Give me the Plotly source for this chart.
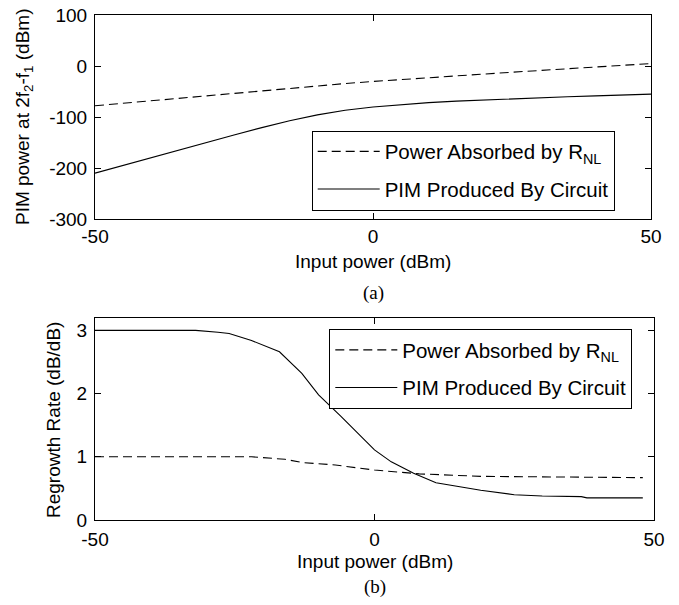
import plotly.graph_objects as go

# (a) PIM power at 2f2-f1 versus input power
pin_a = [-50, -45, -40, -35, -30, -25, -20, -15, -10, -5, 0, 5, 10, 15, 20, 25, 30, 35, 40, 45, 50]
absorbed_a = [-78, -73, -68, -63, -58, -53, -48, -43.2, -38.7, -34.4, -30.3, -26.4, -22.7,
              -19.2, -15.7, -12.2, -8.8, -5.4, -2.0, 1.4, 4.8]
pim_a = [-210, -195, -180, -165, -149, -135.2, -120.8, -107.4, -95.9, -86.9, -80.3, -75.5,
         -71.8, -68.9, -66.4, -64.2, -62.2, -60.3, -58.6, -56.9, -55.2]

# (b) regrowth rate (dB/dB) versus input power
pin_b_abs = [-50, -22, -16, -13, -7, 0, 8, 19, 48]
absorbed_b = [1.0, 1.0, 0.96, 0.91, 0.87, 0.79, 0.73, 0.69, 0.67]
pin_b_pim = [-50, -32, -28, -26, -22, -17, -13, -10, -6, -3, 0, 3, 7, 11, 15, 19, 25, 30, 37, 38, 48]
pim_b = [3.0, 3.0, 2.97, 2.95, 2.84, 2.66, 2.32, 1.98, 1.64, 1.37, 1.11, 0.92, 0.74, 0.59,
         0.53, 0.47, 0.40, 0.38, 0.37, 0.35, 0.35]

name_abs = "Power Absorbed by R<sub>NL</sub>"
name_pim = "PIM Produced By Circuit"

x_ticks = [-50, 0, 50]
x_ticktext = ["-50", "0", "50"]
y_ticks_a = [-300, -200, -100, 0, 100]
y_ticktext_a = ["-300", "-200", "-100", "0", "100"]
y_ticks_b = [0, 1, 2, 3]
y_ticktext_b = ["0", "1", "2", "3"]

W, H = 679, 605
FONT = "Arial, Liberation Sans, sans-serif"
SERIF = "Times New Roman, Liberation Serif, serif"
FS = 19
FS_LEG = 20.5


def px_x(p):
    return p / W


def px_y(p):
    return 1 - p / H


dash = "9px,5px"
line_w = 1.1

fig = go.Figure()
fig.add_trace(go.Scatter(x=pin_a, y=absorbed_a, mode="lines", name=name_abs,
                         line=dict(color="black", width=line_w, dash=dash),
                         xaxis="x", yaxis="y", legend="legend", legendgroup="a1"))
fig.add_trace(go.Scatter(x=pin_a, y=pim_a, mode="lines", name=name_pim,
                         line=dict(color="black", width=line_w),
                         xaxis="x", yaxis="y", legend="legend", legendgroup="a2"))
fig.add_trace(go.Scatter(x=pin_b_abs, y=absorbed_b, mode="lines", name=name_abs,
                         line=dict(color="black", width=line_w, dash=dash),
                         xaxis="x2", yaxis="y2", legend="legend2", legendgroup="b1"))
fig.add_trace(go.Scatter(x=pin_b_pim, y=pim_b, mode="lines", name=name_pim,
                         line=dict(color="black", width=line_w),
                         xaxis="x2", yaxis="y2", legend="legend2", legendgroup="b2"))

axis_common = dict(showline=True, linecolor="black", linewidth=1, mirror="ticks",
                   ticks="inside", ticklen=6, tickcolor="black", tickwidth=1,
                   showgrid=False, zeroline=False, automargin=False,
                   tickfont=dict(family=FONT, size=FS, color="black"))

legend_common = dict(xanchor="left", yanchor="top", bordercolor="black", borderwidth=1,
                     bgcolor="white", font=dict(family=FONT, size=FS_LEG, color="black"),
                     itemwidth=62, tracegroupgap=8, itemclick=False, itemdoubleclick=False)

fig.update_layout(
    width=W, height=H,
    margin=dict(l=0, r=0, t=0, b=0, pad=0, autoexpand=False),
    paper_bgcolor="white", plot_bgcolor="white",
    font=dict(family=FONT, size=FS, color="black"),
    xaxis=dict(domain=[px_x(95), px_x(651)], range=[-50, 50], tickvals=x_ticks,
               ticktext=x_ticktext, anchor="y", **axis_common),
    yaxis=dict(domain=[px_y(219), px_y(15)], range=[-300, 100], tickvals=y_ticks_a,
               ticktext=y_ticktext_a, anchor="x", ticklabelstandoff=3, **axis_common),
    xaxis2=dict(domain=[px_x(95), px_x(654)], range=[-50, 50], tickvals=x_ticks,
                ticktext=x_ticktext, anchor="y2", ticklabelstandoff=2, **axis_common),
    yaxis2=dict(domain=[px_y(520), px_y(317.7)], range=[0, 3.2], tickvals=y_ticks_b,
                ticktext=y_ticktext_b, anchor="x2", ticklabelstandoff=3, **axis_common),
    legend=dict(x=px_x(311.7), y=px_y(130.5), **legend_common),
    legend2=dict(x=px_x(329.3), y=px_y(329), **legend_common),
    showlegend=True,
)

annos = [
    dict(text="PIM power at 2f<sub>2</sub>-f<sub>1</sub> (dBm)", x=px_x(24), y=px_y(117),
         textangle=-90),
    dict(text="Input power (dBm)", x=px_x(373), y=px_y(261)),
    dict(text="(a)", x=px_x(373), y=px_y(293), font=dict(family=SERIF, size=FS, color="black")),
    dict(text="Regrowth Rate (dB/dB)", x=px_x(53), y=px_y(420), textangle=-90),
    dict(text="Input power (dBm)", x=px_x(374.5), y=px_y(561)),
    dict(text="(b)", x=px_x(374.5), y=px_y(587), font=dict(family=SERIF, size=FS, color="black")),
]
for a in annos:
    a.setdefault("font", dict(family=FONT, size=FS, color="black"))
    fig.add_annotation(xref="paper", yref="paper", showarrow=False,
                       xanchor="center", yanchor="middle", **a)

fig.write_html("out.html")
